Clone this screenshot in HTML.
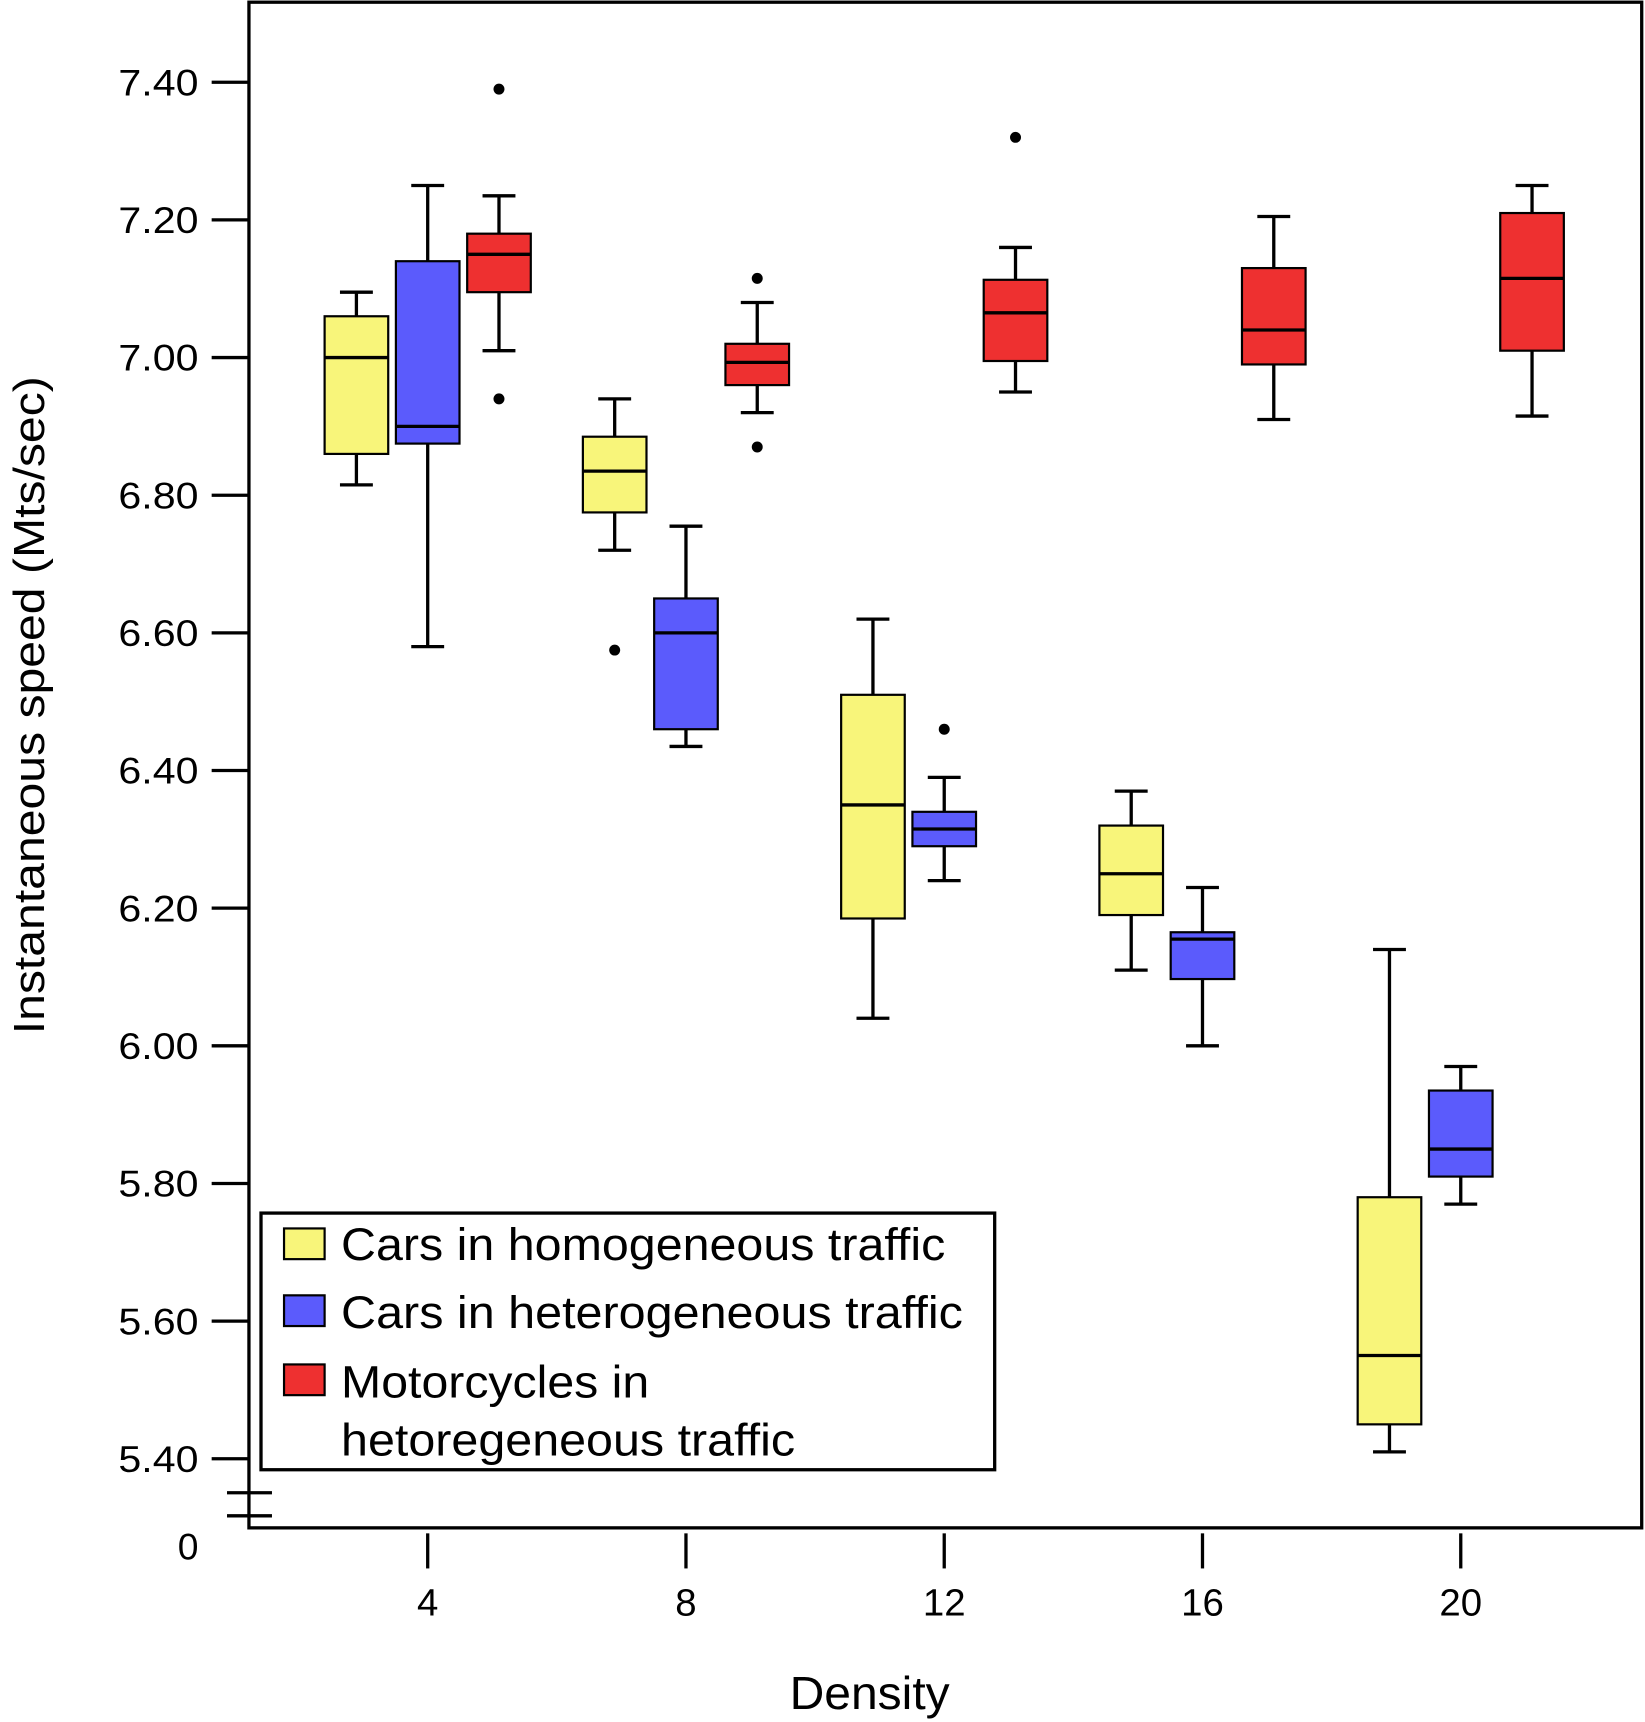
<!DOCTYPE html>
<html><head><meta charset="utf-8"><style>html,body{margin:0;padding:0;background:#fff}svg{display:block}text{font-family:"Liberation Sans",Arial,sans-serif;fill:#000}</style></head>
<body>
<svg id="chart" width="1645" height="1722" viewBox="0 0 1500 1570" preserveAspectRatio="none" xmlns="http://www.w3.org/2000/svg">
<rect x="227" y="2" width="1270" height="1391" fill="none" stroke="#000" stroke-width="3"/>
<g id="yaxis"></g>
<g id="xaxis"></g>
<g id="boxes"></g>
<g stroke="#000" stroke-width="3"><line x1="207" y1="1361" x2="248" y2="1361"/><line x1="207" y1="1382" x2="248" y2="1382"/></g>
<text x="181" y="1422" font-size="34" text-anchor="end">0</text>
<text transform="translate(40,643) rotate(-90)" font-size="40" text-anchor="middle" textLength="600" lengthAdjust="spacingAndGlyphs">Instantaneous speed (Mts/sec)</text>
<text x="793" y="1558" font-size="42" text-anchor="middle" textLength="146" lengthAdjust="spacingAndGlyphs">Density</text>
<g>
<rect x="238" y="1106" width="669" height="234" fill="#fff" stroke="#000" stroke-width="3"/>
<g><rect x="259" y="1120" width="37" height="28" fill="#f8f57a" stroke="#000" stroke-width="2"/><text x="311" y="1149" font-size="41" textLength="551" lengthAdjust="spacingAndGlyphs">Cars in homogeneous traffic</text></g>
<g><rect x="259" y="1181" width="37" height="28" fill="#5b5bfc" stroke="#000" stroke-width="2"/><text x="311" y="1211" font-size="41" textLength="567" lengthAdjust="spacingAndGlyphs">Cars in heterogeneous traffic</text></g>
<g><rect x="259" y="1244" width="37" height="28" fill="#ee3030" stroke="#000" stroke-width="2"/><text x="311" y="1274" font-size="41" textLength="281" lengthAdjust="spacingAndGlyphs">Motorcycles in</text><text x="311" y="1327" font-size="41" textLength="414" lengthAdjust="spacingAndGlyphs">hetoregeneous traffic</text></g>
</g>
</svg>
<script>
const densities=[4,8,12,16,20];
const yTicks=[7.40,7.20,7.00,6.80,6.60,6.40,6.20,6.00,5.80,5.60,5.40];
const seriesColors=["#f8f57a","#5b5bfc","#ee3030"];
// each: [whiskerLow, q1, median, q3, whiskerHigh]
const yellowStats=[[6.815,6.86,7.00,7.06,7.095],[6.72,6.775,6.835,6.885,6.94],[6.04,6.185,6.35,6.51,6.62],[6.11,6.19,6.25,6.32,6.37],[5.41,5.45,5.55,5.78,6.14]];
const blueStats=[[6.58,6.875,6.90,7.14,7.25],[6.435,6.46,6.60,6.65,6.755],[6.24,6.29,6.315,6.34,6.39],[6.00,6.097,6.155,6.165,6.23],[5.77,5.81,5.85,5.935,5.97]];
const redStats=[[7.01,7.095,7.15,7.18,7.235],[6.92,6.96,6.993,7.02,7.08],[6.95,6.995,7.065,7.113,7.16],[6.91,6.99,7.04,7.13,7.205],[6.915,7.01,7.115,7.21,7.25]];
const yellowOutliers=[[],[6.575],[],[],[]];
const blueOutliers=[[],[],[6.46],[],[]];
const redOutliers=[[7.39,6.94],[7.115,6.87],[7.32],[],[]];

const NS="http://www.w3.org/2000/svg";
const y=v=>326+(7.00-v)*627.5;
const x=d=>390+(d-4)*58.875;
function mk(tag,attrs,parent){const e=document.createElementNS(NS,tag);for(const k in attrs)e.setAttribute(k,attrs[k]);parent.appendChild(e);return e;}
const ya=document.getElementById('yaxis'),xa=document.getElementById('xaxis'),bx=document.getElementById('boxes');
yTicks.forEach(t=>{
  const l=mk('line',{x1:193,x2:227,y1:y(t),y2:y(t),stroke:'#000','stroke-width':3},ya);
  
  
  const tx=mk('text',{x:181,y:y(t)+12,'font-size':34,'text-anchor':'end',textLength:73,lengthAdjust:'spacingAndGlyphs'},ya);
  tx.textContent=t.toFixed(2);
  
  
});
densities.forEach(d=>{
  const l=mk('line',{x1:x(d),x2:x(d),y1:1398,y2:1430,stroke:'#000','stroke-width':3},xa);
  
  
  const tx=mk('text',{x:x(d),y:1473,'font-size':35,'text-anchor':'middle'},xa);
  tx.textContent=String(d);
  
  
});
const allStats=[yellowStats,blueStats,redStats],allOut=[yellowOutliers,blueOutliers,redOutliers];
const offsets=[-65,0,65],names=['homogeneous','heterogeneous','motorcycles'];
densities.forEach((d,i)=>{
  allStats.forEach((S,s)=>{
    const [lo,q1,md,q3,hi]=S[i];const cx=x(d)+offsets[s];const w=58;
    const g=mk('g',{},bx);
    
    
    mk('line',{x1:cx,x2:cx,y1:y(hi),y2:y(lo),stroke:'#000','stroke-width':3},g);
    mk('line',{x1:cx-15,x2:cx+15,y1:y(hi),y2:y(hi),stroke:'#000','stroke-width':3},g);
    mk('line',{x1:cx-15,x2:cx+15,y1:y(lo),y2:y(lo),stroke:'#000','stroke-width':3},g);
    mk('rect',{x:cx-w/2,y:y(q3),width:w,height:y(q1)-y(q3),fill:seriesColors[s],stroke:'#000','stroke-width':2},g);
    mk('line',{x1:cx-w/2,x2:cx+w/2,y1:y(md),y2:y(md),stroke:'#000','stroke-width':3},g);
    allOut[s][i].forEach(o=>{
      const c=mk('circle',{cx:cx,cy:y(o),r:5,fill:'#000'},g);
      
      
    });
  });
});
</script>
</body></html>
